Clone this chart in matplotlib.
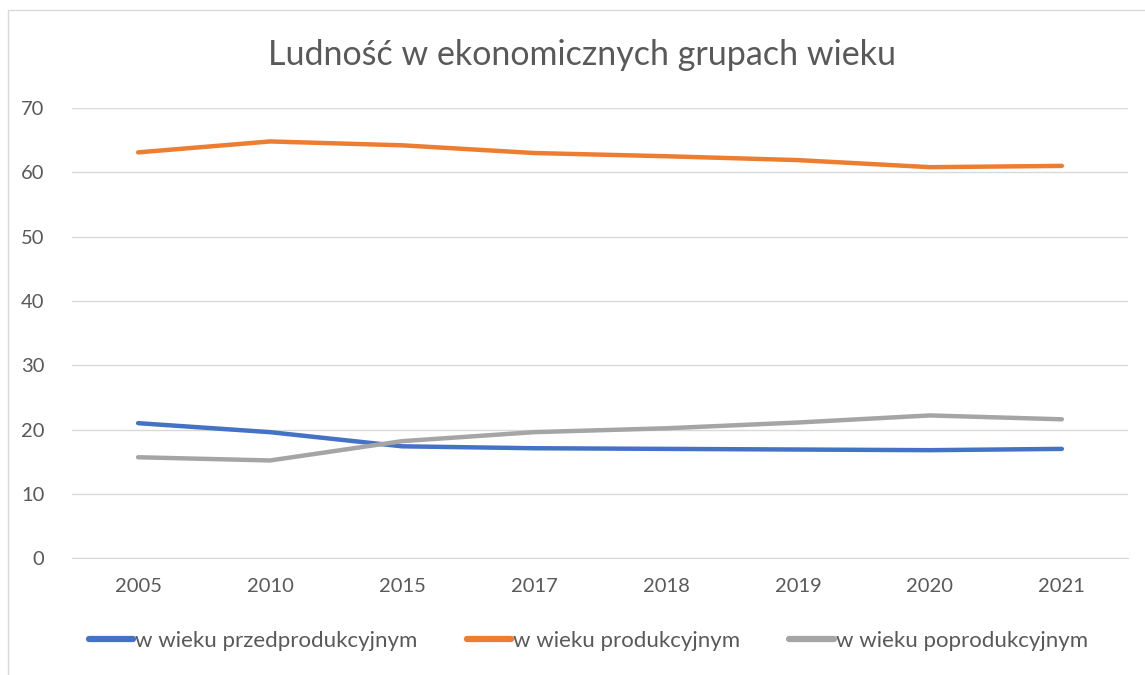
import matplotlib.pyplot as plt
from matplotlib.patches import Rectangle

# Data
years = ['2005', '2010', '2015', '2017', '2018', '2019', '2020', '2021']
przed = [21.0, 19.6, 17.4, 17.1, 17.0, 16.9, 16.8, 17.0]
prod = [63.1, 64.8, 64.2, 63.0, 62.5, 61.9, 60.8, 61.0]
poprod = [15.7, 15.2, 18.2, 19.6, 20.2, 21.1, 22.2, 21.6]

labels = ['w wieku przedprodukcyjnym', 'w wieku produkcyjnym', 'w wieku poprodukcyjnym']
colors = ['#4472C4', '#ED7D31', '#A5A5A5']

plt.rcParams['font.family'] = ['Lato', 'DejaVu Sans']

fig = plt.figure(figsize=(11.45, 6.75), dpi=100)
ax = fig.add_axes([0.063, 0.173, 0.922, 0.667])

x = list(range(len(years)))
for series, lab, col in zip([przed, prod, poprod], labels, colors):
    ax.plot(x, series, color=col, lw=3.2, label=lab, solid_capstyle='round')

ax.set_xlim(-0.5, len(years) - 0.5)
ax.set_ylim(0, 70)
ax.set_yticks(range(0, 71, 10))
ax.set_xticks(x)
ax.set_xticklabels(years)
ax.grid(axis='y', color='#d9d9d9', lw=1)
ax.set_axisbelow(True)
for s in ['top', 'right', 'left']:
    ax.spines[s].set_visible(False)
ax.spines['bottom'].set_color('#d9d9d9')
ax.tick_params(length=0, labelsize=14.5, colors='#595959', pad=14)
ax.tick_params(axis='y', pad=20)

fig.text(0.508, 0.918, 'Ludność w ekonomicznych grupach wieku', ha='center', va='center',
         fontsize=24.5, color='#595959')

leg = fig.legend(loc='center', bbox_to_anchor=(0.514, 0.05), ncol=3, frameon=False,
                 fontsize=16, handlelength=2.0, handletextpad=0.1, columnspacing=2.2,
                 labelcolor='#595959')
for h in leg.get_lines():
    h.set_linewidth(4.5)

fig.patches.append(Rectangle((0.007, -0.01), 1.0, 0.995, transform=fig.transFigure,
                             fill=False, edgecolor='#d9d9d9', lw=1))

fig.savefig('out.png', dpi=100)
